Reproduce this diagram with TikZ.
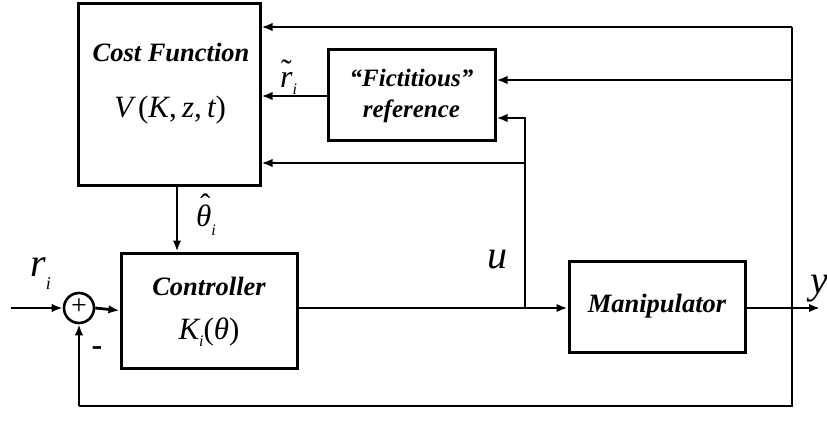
\documentclass[tikz,border=0pt]{standalone}
\usepackage{fontspec}
\setmainfont{Liberation Serif}
\usetikzlibrary{arrows.meta}
\begin{document}
\begin{tikzpicture}[x=1pt,y=-1pt,
  blk/.style={draw,line width=3pt,inner sep=0pt},
  wire/.style={line width=2.8pt},
  arr/.style={wire,-{Latex[length=11pt,width=8.5pt]}},
  lbl/.style={font=\fontsize{26.5}{28}\selectfont\bfseries\itshape},
  mth/.style={font=\fontsize{31}{32}\selectfont\itshape}]
\useasboundingbox (0,0) rectangle (827,439);
% blocks
\node[blk,minimum width=182pt,minimum height=182pt] (cost) at (169,94) {};
\node[lbl] at (171,52) {Cost Function};
\node[mth] at (170,110) {V\,\upshape(\itshape K\upshape,\,\itshape z\upshape,\,\itshape t\upshape)};
\node[blk,minimum width=167pt,minimum height=91pt] (fict) at (411.5,94.5) {};
\node[lbl,align=center,font=\fontsize{25}{31}\selectfont\bfseries\itshape] at (411.5,96) {“Fictitious”\\reference};
\node[blk,minimum width=176pt,minimum height=115pt] (ctrl) at (209,310.5) {};
\node[lbl] at (209,286) {Controller};
\node[mth] at (209,332) {K\raisebox{-7pt}{\fontsize{16}{16}\selectfont i}\upshape(\itshape θ\upshape)};
\node[blk,minimum width=176pt,minimum height=91pt] (man) at (657,306.5) {};
\node[lbl] at (657,306) {Manipulator};
\node[draw,circle,line width=2.6pt,minimum size=30pt,inner sep=0pt] (sum) at (79,308) {};
\node[font=\fontsize{28}{28}\selectfont] at (79,307) {+};
% coordinates
\coordinate (in) at (11,308);
\coordinate (out) at (820,308);
\coordinate (ytop) at (792,27);
\coordinate (yf) at (792,80);
\coordinate (ybot) at (792,406);
\coordinate (sbot) at (79,406);
\coordinate (utap) at (525,308);
\coordinate (uf) at (525,118);
\coordinate (uc) at (525,163);
% connectors
\draw[arr] (in) -- (sum.west);
\draw[arr] (sum.east) -- (ctrl.west);
\draw[arr] (ctrl.east |- utap) -- (man.west |- utap);
\draw[arr] (man.east |- out) -- (out);
\draw[arr] (ytop) -- (ytop -| cost.east);
\draw[arr] (yf) -- (yf -| fict.east);
\draw[wire] (ytop) -- (ybot) -- (sbot);
\draw[arr] (sbot) -- (sum.south);
\draw[arr] (utap) -- (uf) -- (uf -| fict.east);
\draw[arr] (uc) -- (uc -| cost.east);
\draw[arr] (fict.west |- 0,96) -- (cost.east |- 0,96);
\draw[arr] (cost.south -| 177,0) -- (ctrl.north -| 177,0);
% labels
\node[font=\fontsize{40}{40}\selectfont\itshape,anchor=base west,inner sep=0pt] at (30,276) {r\raisebox{-13pt}{\fontsize{18}{18}\selectfont i}};
\node[font=\fontsize{32}{32}\selectfont\bfseries] at (97,351) {-};
\node[font=\fontsize{40}{40}\selectfont\itshape] at (497,260) {u};
\node[font=\fontsize{40}{40}\selectfont\itshape,anchor=base west,inner sep=0pt] at (810,293) {y};
\node[font=\fontsize{31}{31}\selectfont\itshape,anchor=base west,inner sep=0pt] at (196,226) {\makebox[0pt][l]{\hspace{4pt}\raisebox{11pt}{\upshape ˆ}}θ\raisebox{-9pt}{\fontsize{16}{16}\selectfont i}};
\node[font=\fontsize{32}{32}\selectfont\itshape,anchor=base west,inner sep=0pt] at (280,87) {\makebox[0pt][l]{\hspace{1pt}\raisebox{6pt}{\upshape ˜}}r\raisebox{-7pt}{\fontsize{16}{16}\selectfont i}};
\end{tikzpicture}
\end{document}
